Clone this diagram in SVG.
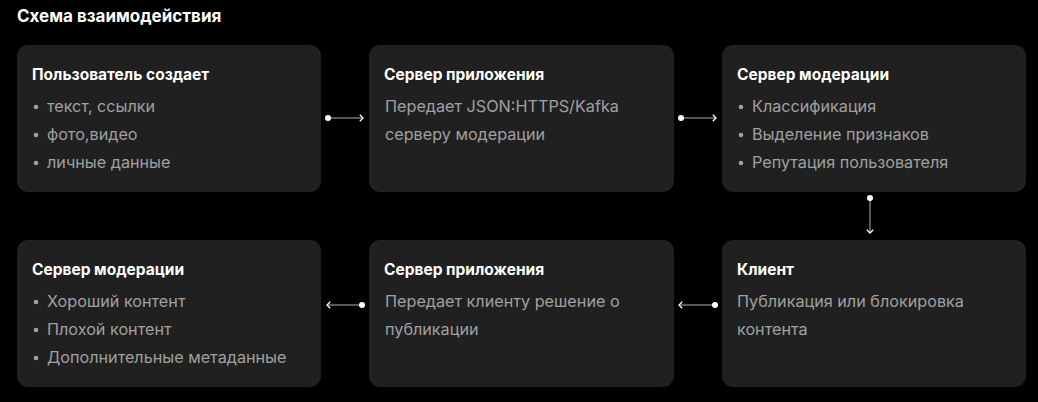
<svg xmlns="http://www.w3.org/2000/svg" width="1038" height="402" viewBox="0 0 1038 402">
<defs>
<style>
.box{fill:#202020}
.t{font-family:Inter,"Noto Sans",sans-serif;font-weight:700;font-size:15.5px;fill:#ffffff}
.h{font-family:Inter,"Noto Sans",sans-serif;font-weight:700;font-size:17px;fill:#ffffff}
.b{font-family:Inter,"Noto Sans",sans-serif;font-weight:400;font-size:16.2px;fill:#a0a0a0}
.dot{fill:#a0a0a0}
.ln{stroke:#b0b0b0;stroke-width:1;fill:none}
.cd{fill:#ffffff}
</style>
<marker id="chev" viewBox="0 0 10 10" refX="9" refY="5" markerWidth="8" markerHeight="8" markerUnits="userSpaceOnUse" orient="auto">
<path d="M5,1 L9,5 L5,9" fill="none" stroke="#ffffff" stroke-width="1.6"/>
</marker>
</defs>
<rect width="1038" height="402" fill="#000000"/>
<text class="h" x="17" y="22">Схема взаимодействия</text>

<g id="n1">
<rect class="box" x="17" y="45" width="304" height="147" rx="11"/>
<text class="t" x="32" y="80">Пользователь создает</text>
<circle class="dot" cx="36" cy="107" r="2.3"/><text class="b" x="47" y="112">текст, ссылки</text>
<circle class="dot" cx="36" cy="135" r="2.3"/><text class="b" x="47" y="140">фото,видео</text>
<circle class="dot" cx="36" cy="163" r="2.3"/><text class="b" x="47" y="168">личные данные</text>
</g>

<g id="n2">
<rect class="box" x="369" y="45" width="305" height="147" rx="11"/>
<text class="t" x="384" y="80">Сервер приложения</text>
<text class="b" x="385" y="112">Передает JSON:HTTPS/Kafka</text>
<text class="b" x="385" y="140">серверу модерации</text>
</g>

<g id="n3">
<rect class="box" x="722" y="45" width="304" height="147" rx="11"/>
<text class="t" x="737" y="80">Сервер модерации</text>
<circle class="dot" cx="741" cy="107" r="2.3"/><text class="b" x="752" y="112">Классификация</text>
<circle class="dot" cx="741" cy="135" r="2.3"/><text class="b" x="752" y="140">Выделение признаков</text>
<circle class="dot" cx="741" cy="163" r="2.3"/><text class="b" x="752" y="168">Репутация пользователя</text>
</g>

<g id="n4">
<rect class="box" x="17" y="240" width="304" height="147" rx="11"/>
<text class="t" x="32" y="275">Сервер модерации</text>
<circle class="dot" cx="36" cy="302" r="2.3"/><text class="b" x="47" y="307">Хороший контент</text>
<circle class="dot" cx="36" cy="330" r="2.3"/><text class="b" x="47" y="335">Плохой контент</text>
<circle class="dot" cx="36" cy="358" r="2.3"/><text class="b" x="47" y="363">Дополнительные метаданные</text>
</g>

<g id="n5">
<rect class="box" x="369" y="240" width="305" height="147" rx="11"/>
<text class="t" x="384" y="275">Сервер приложения</text>
<text class="b" x="385" y="307">Передает клиенту решение о</text>
<text class="b" x="385" y="335">публикации</text>
</g>

<g id="n6">
<rect class="box" x="722" y="240" width="304" height="147" rx="11"/>
<text class="t" x="737" y="275">Клиент</text>
<text class="b" x="737" y="307">Публикация или блокировка</text>
<text class="b" x="737" y="335">контента</text>
</g>

<g id="connectors">
<line class="ln" x1="328" y1="118" x2="363" y2="118" marker-end="url(#chev)"/>
<circle class="cd" cx="328" cy="118" r="3"/>
<line class="ln" x1="681" y1="118" x2="716" y2="118" marker-end="url(#chev)"/>
<circle class="cd" cx="681" cy="118" r="3"/>
<line class="ln" x1="870" y1="198" x2="870" y2="233" marker-end="url(#chev)"/>
<circle class="cd" cx="870" cy="198" r="3"/>
<line class="ln" x1="715" y1="305" x2="679" y2="305" marker-end="url(#chev)"/>
<circle class="cd" cx="715" cy="305" r="3"/>
<line class="ln" x1="362" y1="305" x2="327" y2="305" marker-end="url(#chev)"/>
<circle class="cd" cx="362" cy="305" r="3"/>
</g>
</svg>
